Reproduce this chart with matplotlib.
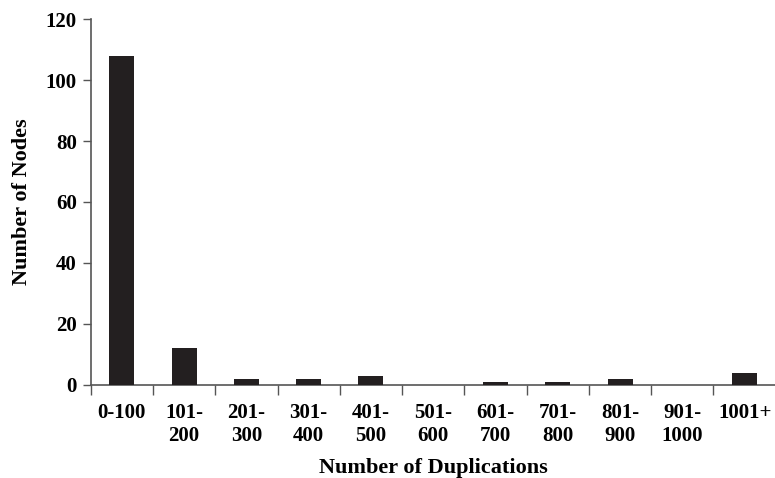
import matplotlib.pyplot as plt
import numpy as np

plt.rcParams['font.family'] = ['Liberation Serif', 'DejaVu Serif']
plt.rcParams['font.weight'] = 'bold'

# data
categories = ['0-100', '101-\n200', '201-\n300', '301-\n400', '401-\n500', '501-\n600',
              '601-\n700', '701-\n800', '801-\n900', '901-\n1000', '1001+']
nodes = [108, 12, 2, 2, 3, 0, 1, 1, 2, 0, 4]

fig = plt.figure(figsize=(7.75, 4.78), dpi=100)
ax = fig.add_axes([0.117, 0.195, 0.884, 0.765])

x = np.arange(len(categories))
ax.bar(x, nodes, width=0.4, color='#231f20', zorder=3)

ax.set_xlim(-0.5, len(categories) - 0.5)
ax.set_ylim(0, 120)
ax.set_yticks(np.arange(0, 121, 20))

# ticks between categories, labels centred under the bars
ax.set_xticks(np.arange(-0.5, len(categories), 1.0))
ax.set_xticklabels([])
ax.set_xticks(x, minor=True)
ax.set_xticklabels(categories, minor=True, fontsize=15, fontweight='bold',
                   va='top', linespacing=1.2)
ax.tick_params(axis='x', which='minor', length=0, pad=13)
ax.tick_params(axis='x', which='major', length=7, width=1, color='#555555', direction='out')
ax.tick_params(axis='y', length=6, width=1, color='#555555', direction='out',
               labelsize=15, pad=4)
for lab in ax.get_yticklabels():
    lab.set_fontweight('bold')

for s in ['top', 'right']:
    ax.spines[s].set_visible(False)
for s in ['left', 'bottom']:
    ax.spines[s].set_color('#555555')
    ax.spines[s].set_linewidth(1.2)

ax.set_ylabel('Number of Nodes', fontsize=16, fontweight='bold', labelpad=10)
ax.set_xlabel('Number of Duplications', fontsize=16, fontweight='bold', labelpad=9)

fig.savefig('out.png', dpi=100)
